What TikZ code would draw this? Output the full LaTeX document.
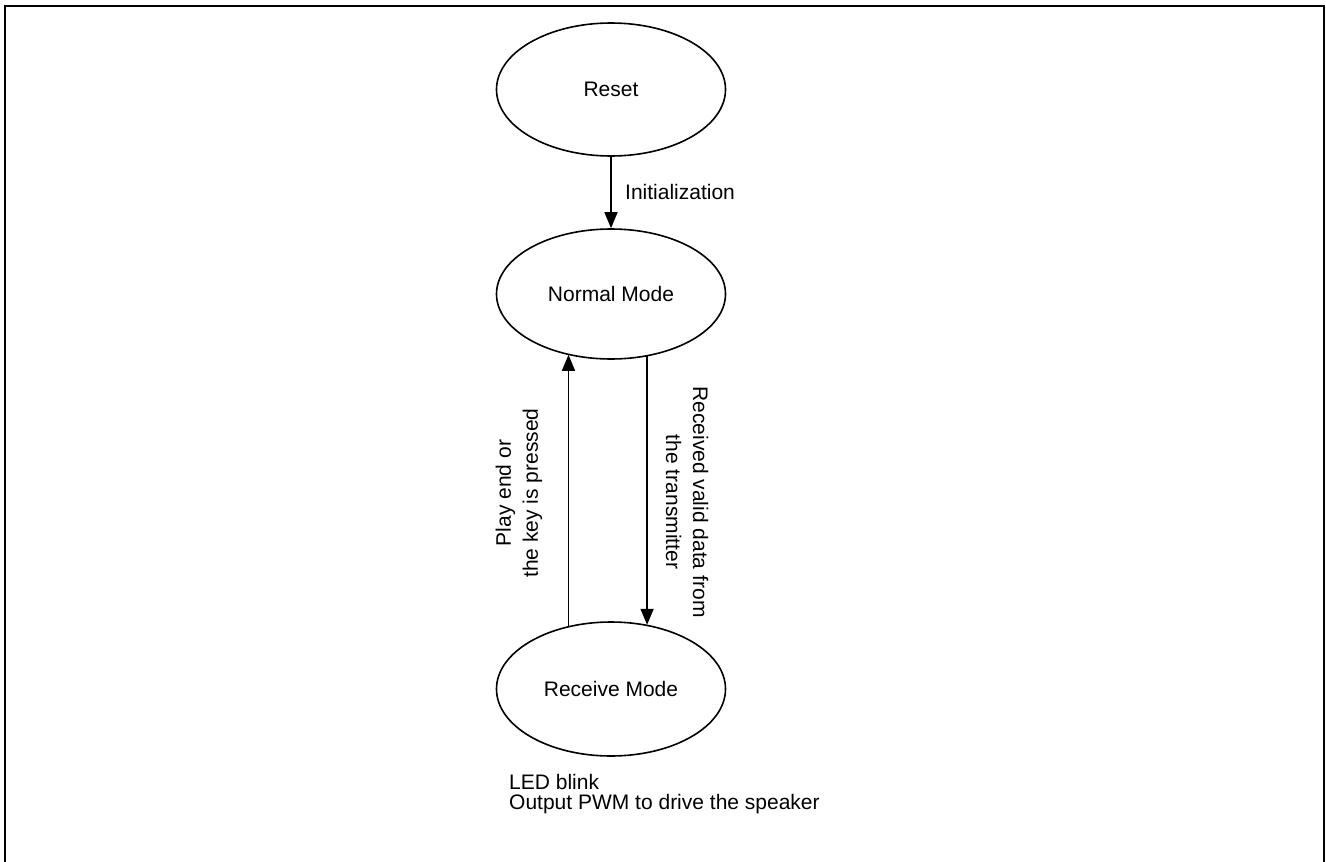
\documentclass[tikz,border=0pt]{standalone}
\usepackage{fontspec}
\setmainfont{Liberation Sans}
\usetikzlibrary{arrows.meta,shapes.geometric}
\begin{document}
\begin{tikzpicture}[x=1pt,y=-1pt,
  state/.style={ellipse,draw,line width=1.6pt,inner sep=0pt,
    minimum width=229pt,minimum height=133pt,font=\fontsize{21}{25}\selectfont},
  flow/.style={line width=1.6pt,-{Triangle[width=13pt,length=16pt]}},
  lbl/.style={inner sep=0pt,font=\fontsize{21}{27}\selectfont},
  note/.style={inner sep=0pt,align=left,font=\fontsize{21}{20}\selectfont}]
\useasboundingbox (0,0) rectangle (1326,862);
% outer frame (open at the bottom)
\draw[line width=2pt] (5,862) -- (5,6) -- (1324,6) -- (1324,862);

% states
\node[state] (reset)   at (611,89.5) {Reset};
\node[state,minimum height=130pt] (normal)  at (611,294) {Normal Mode};
\node[state,minimum height=134pt] (receive) at (611,689) {Receive Mode};

% transitions
\draw[flow] (reset.south) -- (normal.north);
\node[lbl,anchor=west] (init) at (625,192) {Initialization};

\draw[flow] (receive.124.7) -- (receive.124.7 |- normal.234.5);
\draw[flow] (normal.300.3) -- (normal.300.3 |- receive.60.5);

\node[lbl,rotate=90,align=center] (back) at (519,493)
  {Play end or\\the key is pressed};
\node[lbl,rotate=-90,align=center] (recv) at (687,502)
  {Received valid data from\\the transmitter};

% actions in receive mode
\node[note,anchor=base west] (act) at (509,809)
  {LED blink\\Output PWM to drive the speaker};
\end{tikzpicture}
\end{document}
